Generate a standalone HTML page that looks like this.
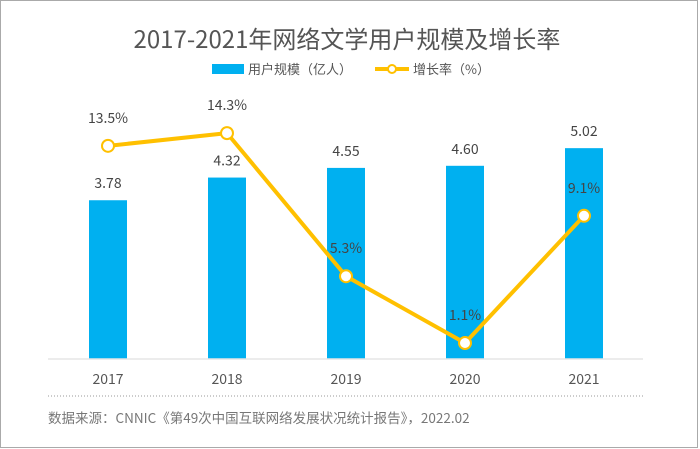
<!DOCTYPE html>
<html><head><meta charset="utf-8"><style>
body{margin:0;background:#fff;}
svg{display:block;font-family:"Noto Sans CJK SC","Liberation Sans",sans-serif;}
</style></head><body>
<svg width="700" height="449">
<rect x="0.5" y="0.5" width="697" height="447" fill="#fff" stroke="#aaa"/>
<text x="347" y="48" text-anchor="middle" font-size="24" fill="#555">2017-2021年网络文学用户规模及增长率</text>
<g>
<rect x="212" y="64" width="32" height="10" fill="#00b0f0"/>
<text x="248" y="74" font-size="13" fill="#555">用户规模（亿人）</text>
<line x1="375" y1="69" x2="409" y2="69" stroke="#ffc000" stroke-width="4"/>
<circle cx="392" cy="69" r="4" fill="#fff" stroke="#ffc000" stroke-width="2"/>
<text x="413" y="74" font-size="13" fill="#555">增长率（%）</text>
</g>
<g id="plot"></g>
<line x1="48" y1="359" x2="643" y2="359" stroke="#e6e6e6" stroke-width="1.5"/>
<line x1="48" y1="396" x2="645" y2="396" stroke="#999" stroke-width="1" stroke-dasharray="1,2"/>
<text x="48" y="423" font-size="13.5" fill="#777">数据来源：CNNIC《第49次中国互联网络发展状况统计报告》，2022.02</text>
</svg>
<script>
const years=["2017","2018","2019","2020","2021"];
const users=[3.78,4.32,4.55,4.60,5.02];
const rates=[13.5,14.3,5.3,1.1,9.1];
const rateLabels=["13.5%","14.3%","5.3%","1.1%","9.1%"];
const NS="http://www.w3.org/2000/svg";
const g=document.getElementById('plot');
const x=i=>108+i*119;
const yU=v=>359-v*42;
const yR=v=>360.5-v*15.9;
function mk(t,a){const e=document.createElementNS(NS,t);for(const k in a)e.setAttribute(k,a[k]);g.appendChild(e);return e;}
users.forEach((v,i)=>{
 const b=mk('rect',{x:x(i)-19,y:yU(v),width:38,height:359-yU(v),fill:'#00b0f0'});
 
 
 const t=mk('text',{x:x(i),y:yU(v)-12,'text-anchor':'middle','font-size':'14',fill:'#444'});
 t.textContent=v.toFixed(2);
 
 
 const a=mk('text',{x:x(i),y:384,'text-anchor':'middle','font-size':'14',fill:'#555'});
 a.textContent=years[i];
 
 
});
const pl=mk('polyline',{points:rates.map((v,i)=>x(i)+','+yR(v)).join(' '),fill:'none',stroke:'#ffc000','stroke-width':4,'stroke-linejoin':'round'});


rates.forEach((v,i)=>{
 const c=mk('circle',{cx:x(i),cy:yR(v),r:6,fill:'#fff',stroke:'#ffc000','stroke-width':2});
 
 
 const t=mk('text',{x:x(i),y:yR(v)-23,'text-anchor':'middle','font-size':'14',fill:'#444'});
 t.textContent=rateLabels[i];
 
 
});
</script>
</body></html>
